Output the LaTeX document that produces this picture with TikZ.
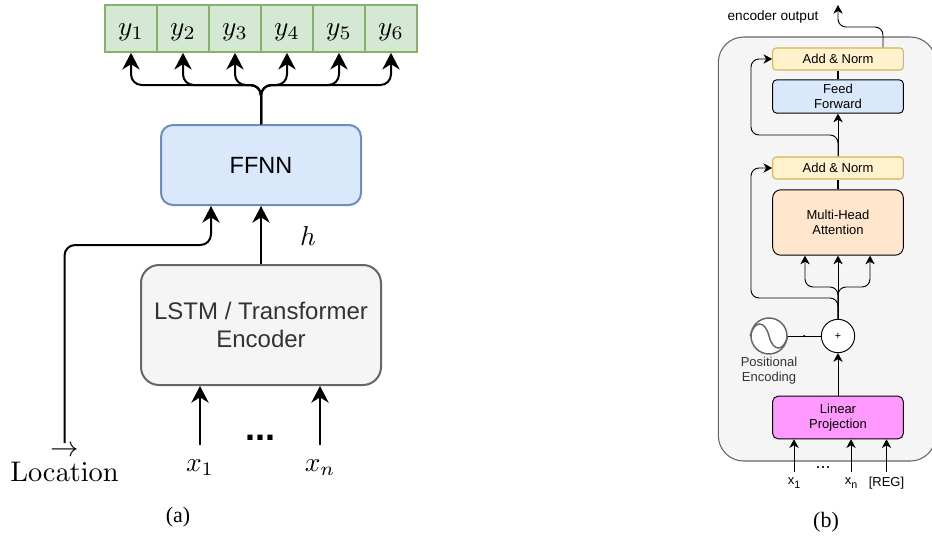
\documentclass[tikz,border=0pt]{standalone}
\usepackage[no-math]{fontspec}
\setmainfont{Liberation Sans}
\newfontfamily\capfont{Liberation Serif}
\usepackage{amsmath}
\usetikzlibrary{arrows.meta, calc}
\definecolor{outgreen}{HTML}{D5E8D4}
\definecolor{outgreenline}{HTML}{82B366}
\definecolor{netblue}{HTML}{DAE8FC}
\definecolor{netblueline}{HTML}{6C8EBF}
\definecolor{encgray}{HTML}{F5F5F5}
\definecolor{encgrayline}{HTML}{666666}
\definecolor{enctext}{HTML}{333333}
\definecolor{normyellow}{HTML}{FFF2CC}
\definecolor{normyellowline}{HTML}{D6B656}
\definecolor{attnorange}{HTML}{FFE6CC}
\definecolor{projpink}{HTML}{FF99FF}
\newcommand{\bigmath}[1]{\scalebox{2.05}{$#1$}}
\tikzset{
  bigarrow/.style={line width=1.5pt, rounded corners=8pt, -{Stealth[length=12.5pt,width=13pt,inset=4pt]}},
  smallarrow/.style={line width=0.7pt, rounded corners=6pt, -{Stealth[length=6.5pt,width=7pt,inset=2pt]}},
  ybox/.style={draw=outgreenline, fill=outgreen, line width=1.5pt, minimum width=39pt, minimum height=35pt, inner sep=0pt, text height=14pt, text depth=3pt},
  mathlabel/.style={inner sep=0pt, minimum height=34pt},
  normbox/.style={draw=normyellowline, fill=normyellow, line width=0.8pt, rounded corners=2.5pt, minimum width=98pt, minimum height=16.5pt, inner sep=0pt},
  smalllabel/.style={inner sep=0pt, align=center, font=\fontsize{9.75}{11.25}\selectfont},
  inlabel/.style={smalllabel, minimum height=16.5pt},
  caplabel/.style={font=\capfont\fontsize{16.5}{20}\selectfont},
}
\newcommand{\lowsub}[1]{\raisebox{-2.5pt}{\fontsize{8}{8}\selectfont #1}}
\begin{document}
\begin{tikzpicture}[x=0.75pt, y=-0.75pt]
  \useasboundingbox (0,0) rectangle (932,540);

  % (a) outputs
  \foreach \i in {1,...,6} {
    \node[ybox] (y\i) at ({131+52*(\i-1)},28.5) {\bigmath{y_{\i}}};
  }

  % (a) main blocks
  \node[draw=netblueline, fill=netblue, line width=1.5pt, rounded corners=9pt, minimum width=150pt, minimum height=60pt, font=\fontsize{17.6}{21}\selectfont] (ffnn) at (261,165) {FFNN};
  \node[draw=encgrayline, fill=encgray, line width=1.5pt, rounded corners=13.5pt, minimum width=180pt, minimum height=90pt, align=center, text=enctext, font=\fontsize{18}{21}\selectfont] (lstm) at (261,325) {LSTM / Transformer\\Encoder};

  % (a) inputs
  \node[mathlabel] (x1) at (200,468) {\bigmath{x_1}};
  \node[mathlabel] (xn) at (320,468) {\bigmath{x_n}};
  \node[anchor=base, font=\bfseries\fontsize{27}{30}\selectfont] (dotsa) at (260,440) {...};
  \node[inner sep=0pt] (h) at (308,236) {\bigmath{h}};
  \node[inner sep=0pt, anchor=north] (location) at (64.5,443) {\scalebox{2.13}{$\overset{\textstyle\rightarrow}{\mathrm{Location}}$}};
  \node[caplabel] (capa) at (178,517) {(a)};

  % (a) connectors
  \coordinate (bus) at (261,85);
  \foreach \i in {1,...,6} {
    \draw[bigarrow] (ffnn.north) -- (bus) -| (y\i.south);
  }
  \draw[bigarrow] (lstm.north) -- (ffnn.south);
  \draw[bigarrow] (x1.north) -- (x1.north |- lstm.south);
  \draw[bigarrow] (xn.north) -- (xn.north |- lstm.south);
  \coordinate (locin) at ($(ffnn.south)+(-50,0)$);
  \coordinate (locbus) at (location.north |- 0,245);
  \draw[bigarrow] (location.north) -- (locbus) -| (locin);

  % (b) container
  \node[draw=encgrayline, fill=encgray, line width=0.8pt, rounded corners=19pt, minimum width=163pt, minimum height=318pt] (frame) at (827,249) {};

  % (b) blocks
  \node[normbox, smalllabel] (addt) at (838,59) {Add \& Norm};
  \node[draw=black, fill=netblue, line width=0.7pt, rounded corners=3pt, minimum width=98pt, minimum height=25pt, smalllabel] (ff) at (838,96.5) {Feed\\Forward};
  \node[normbox, smalllabel] (addb) at (838,168) {Add \& Norm};
  \node[draw=black, fill=attnorange, line width=0.7pt, rounded corners=6pt, minimum width=98pt, minimum height=49pt, smalllabel] (mha) at (838,222.5) {Multi-Head\\Attention};
  \node[draw=black, fill=projpink, line width=0.7pt, rounded corners=4pt, minimum width=98pt, minimum height=32pt, smalllabel] (proj) at (838,417.5) {Linear\\Projection};
  \node[draw=black, fill=white, circle, line width=0.7pt, minimum size=25pt, inner sep=0pt, font=\fontsize{8}{9}\selectfont] (plus) at (838,336) {+};
  \node[draw=encgrayline, fill=white, circle, line width=1.1pt, minimum size=27pt, inner sep=0pt] (sine) at (769,336) {};
  \draw[encgrayline, line width=1.1pt] (sine.west) .. controls ($(sine.west)+(4,-16)$) and ($(sine.center)+(-4,-16)$) .. (sine.center) .. controls ($(sine.center)+(4,16)$) and ($(sine.east)+(-4,16)$) .. (sine.east);

  % (b) labels
  \node[smalllabel, text=enctext] (posenc) at (769,370.5) {Positional\\Encoding};
  \node[smalllabel, font=\fontsize{10.2}{12}\selectfont] (outlabel) at (773,17) {encoder output};
  \node[inlabel] (x1b) at (794,483) {x\lowsub{1}};
  \node[inlabel] (xnb) at (851,483) {x\lowsub{n}};
  \node[inlabel] (reg) at (886.5,483) {[REG]};
  \node[anchor=base, font=\fontsize{13.5}{16}\selectfont] (dotsb) at (823,468) {...};
  \node[caplabel] (capb) at (826,522) {(b)};

  % (b) connectors
  \draw[line width=1.2pt] (ff.north) -- (addt.south);
  \draw[line width=1.2pt] (mha.north) -- (addb.south);
  \draw[smallarrow] (addb.north) -- (ff.south);
  \draw[smallarrow] (proj.north) -- (plus.south);
  \draw[line width=0.7pt] (sine.east) -- (plus.west);
  \fill ($(sine.east)!.5!(plus.west)$) circle (1.1);
  \coordinate (headbus) at (838,287);
  \draw[smallarrow] (plus.north) -- (mha.south);
  \draw[smallarrow] (plus.north) -- (headbus) -| ($(mha.south)+(-33,0)$);
  \draw[smallarrow] (plus.north) -- (headbus) -| ($(mha.south)+(32,0)$);
  \coordinate (skipb) at (751,298);
  \draw[smallarrow] (plus.north) |- (skipb) |- (addb.west);
  \coordinate (skipt) at (751,135);
  \draw[smallarrow] (addb.north) |- (skipt) |- (addt.west);
  \coordinate (outbus) at (883,27);
  \coordinate (outend) at (838,5);
  \draw[smallarrow] ($(addt.north)+(45,0)$) -- (outbus) -| (outend);
  \draw[smallarrow] (x1b.north) -- (x1b.north |- proj.south);
  \draw[smallarrow] (xnb.north) -- (xnb.north |- proj.south);
  \draw[smallarrow] (reg.north) -- (reg.north |- proj.south);
\end{tikzpicture}
\end{document}
